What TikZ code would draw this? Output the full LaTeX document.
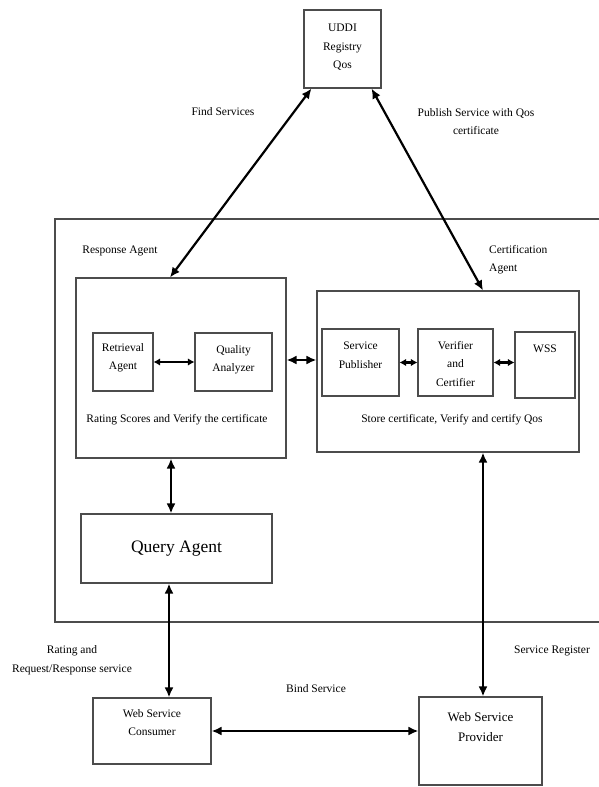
\documentclass[tikz,border=0pt]{standalone}
\usepackage{fontspec}
\setmainfont{Liberation Serif}
\usetikzlibrary{arrows.meta}
\begin{document}
\begin{tikzpicture}[x=1pt,y=-1pt,
  box/.style={draw=black!70,line width=1.1pt,fill=white,inner sep=0pt},
  txt/.style={inner sep=0pt,align=center,font=\fontsize{11.5}{18.5}\selectfont},
  arr/.style={line width=2.2pt,{Latex[length=10pt,width=9pt]}-{Latex[length=10pt,width=9pt]}},
  sarr/.style={line width=2.2pt,{Latex[length=6.5pt,width=7.5pt]}-{Latex[length=6.5pt,width=7.5pt]}}]
\useasboundingbox (0,0) rectangle (599,787);
% outer frame (right side beyond picture)
\draw[black!70,line width=1.1pt] (599,219) -- (55,219) -- (55,622) -- (599,622);
% boxes
\node[box,minimum width=77pt,minimum height=78pt] (uddi) at (342.5,49) {};
\node[box,minimum width=210pt,minimum height=180pt] (ra) at (181,368) {};
\node[box,minimum width=262pt,minimum height=161pt] (cert) at (448,371.5) {};
\node[box,minimum width=60pt,minimum height=58pt] (ret) at (123,362) {};
\node[box,minimum width=77pt,minimum height=58pt] (qa) at (233.5,362) {};
\node[box,minimum width=77pt,minimum height=67pt] (sp) at (360.5,362.5) {};
\node[box,minimum width=75pt,minimum height=67pt] (vc) at (455.5,362.5) {};
\node[box,minimum width=60pt,minimum height=66pt] (wss) at (545,365) {};
\node[box,minimum width=191pt,minimum height=69pt] (query) at (176.5,548.5) {};
\node[box,minimum width=118pt,minimum height=66pt] (consumer) at (152,731) {};
\node[box,minimum width=123pt,minimum height=88pt] (provider) at (480.5,741) {};
% box texts
\node[txt] (tuddi) at ([yshift=1.5pt]uddi.center) {UDDI\\Registry\\Qos};
\node[txt] (tret) at ([yshift=4.5pt]ret.center) {Retrieval\\Agent};
\node[txt] (tqa) at ([yshift=2.5pt]qa.center) {Quality\\Analyzer};
\node[txt] (tsp) at ([yshift=7.5pt]sp.center) {Service\\Publisher};
\node[txt] (tvc) at ([yshift=-1.5pt]vc.center) {Verifier\\and\\Certifier};
\node[txt] (twss) at ([yshift=16pt]wss.center) {WSS};
\node[txt,font=\fontsize{17.5}{20}\selectfont] (tquery) at (query.center) {Query Agent};
\node[txt] (tcons) at ([yshift=8.5pt]consumer.center) {Web Service\\Consumer};
\node[txt,font=\fontsize{13}{20}\selectfont] (tprov) at ([yshift=14pt]provider.center) {Web Service\\Provider};
% labels
\node[txt] (lfind) at (223,112) {Find Services};
\node[txt] (lpub) at (476,121.5) {Publish Service with Qos\\certificate};
\node[txt] (lresp) at (120,251) {Response Agent};
\node[txt,align=left,anchor=west] (lcert) at (489,259.5) {Certification\\Agent};
\node[txt] (lrate) at (177,420) {Rating Scores and Verify the certificate};
\node[txt] (lstore) at (452,420) {Store certificate, Verify and certify Qos};
\node[txt] (lreq) at (72,660) {Rating and\\Request/Response service};
\node[txt] (lreg) at (552,651) {Service Register};
\node[txt] (lbind) at (316,689) {Bind Service};
% connectors
\draw[arr] ([xshift=8pt]uddi.south west) -- ([xshift=-11pt]ra.north);
\draw[arr] ([xshift=-10pt]uddi.south east) -- ([xshift=35pt]cert.north);
\draw[arr] ([yshift=8pt]ra.east) -- ([yshift=11.5pt]cert.west);
\draw[sarr] (ret.east) -- (qa.west);
\draw[sarr] (sp.east) -- (vc.west);
\draw[sarr] (vc.east) -- (vc.east -| wss.west);
\draw[arr] ([xshift=-10pt]ra.south) -- ([xshift=-10pt]ra.south |- query.north);
\draw[arr] ([xshift=-7.5pt]query.south) -- ([xshift=-7.5pt]query.south |- consumer.north);
\draw[arr] ([xshift=35pt]cert.south) -- ([xshift=35pt]cert.south |- provider.north);
\draw[arr] (consumer.east) -- (consumer.east -| provider.west);
\end{tikzpicture}
\end{document}
